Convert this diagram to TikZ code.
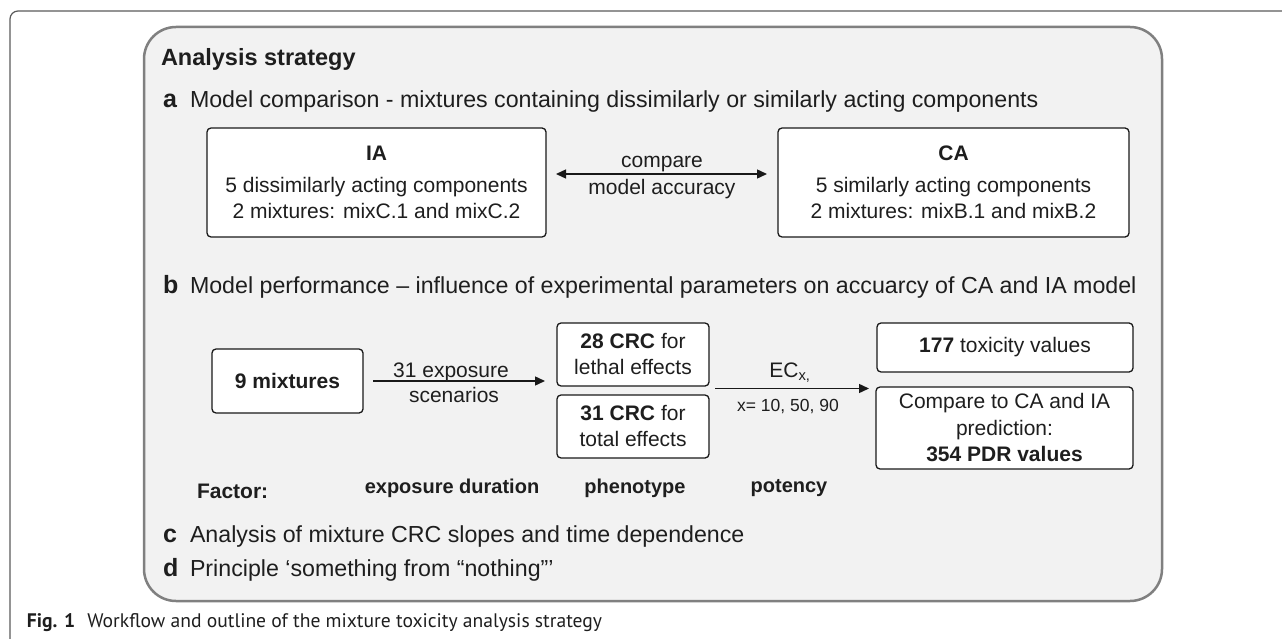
\documentclass[tikz,border=0pt]{standalone}
\usepackage{fontspec}
\setmainfont{Liberation Sans}
\newfontfamily\capfont{PT Sans}
\usetikzlibrary{arrows.meta,calc}
\definecolor{txt}{HTML}{1E1E1E}
\definecolor{panelfill}{HTML}{F2F2F2}
\definecolor{panelline}{HTML}{808080}
\definecolor{frameline}{HTML}{5A5A5A}
\begin{document}
\begin{tikzpicture}[x=1pt,y=-1pt,
  every node/.style={text=txt, inner sep=0pt, outer sep=0pt},
  box/.style={draw=black!90, line width=1.3pt, rounded corners=4pt, fill=white, align=center, font=\fontsize{21}{26}\selectfont},
  lab/.style={font=\fontsize{21}{26}\selectfont},
  sect/.style={anchor=base west, font=\fontsize{23.2}{27}\selectfont},
  factor/.style={anchor=base, font=\fontsize{20}{24}\selectfont\bfseries},
  tipA/.tip={Triangle[length=10pt,width=9pt]},
  conn/.style={line width=1.4pt, draw=black!90, -tipA},
  bothconn/.style={line width=1.4pt, draw=black!90, tipA-tipA}]
\useasboundingbox (0,0) rectangle (1282,639);
% outer frame
\draw[frameline, line width=1.2pt, rounded corners=8pt] (10,639) -- (10,11) -- (1282,11);
% panel
\draw[panelline, fill=panelfill, line width=2.5pt, rounded corners=32pt] (144,27) rectangle (1162,601);
% title
\node[anchor=base west, font=\fontsize{23.5}{28}\selectfont\bfseries] (title) at (161,66) {Analysis strategy};
% section a
\node[sect] (seca) at (163,108) {\makebox[27pt][l]{\fontsize{25}{25}\selectfont\bfseries a}Model comparison - mixtures containing dissimilarly or similarly acting components};
\node[box, minimum width=339pt, minimum height=109pt] (IA) at (376.5,182.5)
  {\textbf{IA}\\[6pt]5 dissimilarly acting components\\2 mixtures: mixC.1 and mixC.2};
\node[box, minimum width=351pt, minimum height=109pt] (CA) at (953.5,182.5)
  {\textbf{CA}\\[6pt]5 similarly acting components\\2 mixtures: mixB.1 and mixB.2};
\draw[bothconn, shorten <=10pt, shorten >=11pt] ([yshift=8.5pt]IA.east) -- ([yshift=8.5pt]CA.west);
\node[lab, anchor=base] (cmpT) at (662,168) {compare};
\node[lab, anchor=base] (cmpB) at (662,195) {model accuracy};
% section b
\node[sect] (secb) at (163,293) {\makebox[27pt][l]{\fontsize{25}{25}\selectfont\bfseries b}Model performance – influence of experimental parameters on accuarcy of CA and IA model};
\node[box, font=\fontsize{21}{26}\selectfont\bfseries, minimum width=151pt, minimum height=64pt] (mix) at (287.5,381) {9 mixtures};
\node[box, minimum width=152pt, minimum height=63pt] (lethal) at (633,354.5) {\textbf{28 CRC} for\\lethal effects};
\node[box, minimum width=152pt, minimum height=63pt] (total) at (633,426.5) {\textbf{31 CRC} for\\total effects};
\node[box, minimum width=256pt, minimum height=49pt] (tox) at (1005,347.5) {\textbf{177} toxicity values};
\node[box, font=\fontsize{21}{26.5}\selectfont, minimum width=257pt, minimum height=82pt] (cmp) at (1004.5,428) {Compare to CA and IA\\prediction:\\\textbf{354 PDR values}};
\draw[conn, shorten <=10pt, shorten >=12pt] (mix.east) -- (mix.east -| lethal.west);
\node[lab, anchor=base] (expT) at (451,377) {31 exposure};
\node[lab, anchor=base] (expB) at (454,402) {scenarios};
\coordinate (ecS) at ($(lethal.south east)!0.5!(total.north east)+(0,-2)$);
\draw[conn, shorten <=6pt, shorten >=8pt] (ecS) -- (ecS -| tox.west);
\node[lab, anchor=base] (ecT) at (790,377) {EC\textsubscript{x,}};
\node[anchor=base, font=\fontsize{17.5}{21}\selectfont] (ecB) at (788,411) {x= 10, 50, 90};
% factors
\node[anchor=base west, font=\fontsize{21}{25}\selectfont\bfseries] (fac) at (197,498) {Factor:};
\node[factor] (f1) at (452,493) {exposure duration};
\node[factor] (f2) at (635,493) {phenotype};
\node[factor] (f3) at (789,492) {potency};
% sections c, d
\node[sect] (secc) at (163,542) {\makebox[27pt][l]{\fontsize{25}{25}\selectfont\bfseries c}Analysis of mixture CRC slopes and time dependence};
\node[sect] (secd) at (163,576) {\makebox[27pt][l]{\fontsize{25}{25}\selectfont\bfseries d}Principle ‘something from “nothing”’};
% caption
\node[anchor=base west, font=\capfont\fontsize{19.6}{23}\selectfont] (cap) at (27,627) {\textbf{Fig. 1}\hspace{12pt}Workflow and outline of the mixture toxicity analysis strategy};
\end{tikzpicture}
\end{document}
